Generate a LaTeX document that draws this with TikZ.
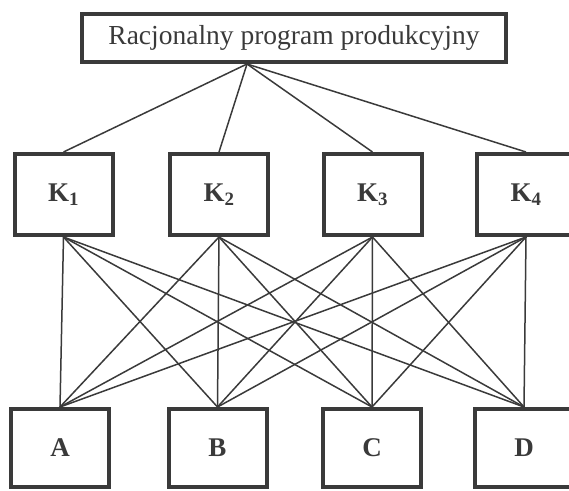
\documentclass[tikz,border=0pt]{standalone}
\usepackage{fontspec}
\setmainfont{Liberation Serif}
\definecolor{ink}{HTML}{3A3A3A}
\begin{document}
\begin{tikzpicture}[x=1pt,y=-1pt,
  box/.style={draw=ink,line width=4pt,fill=white,inner sep=0pt,text=ink,
    font=\fontsize{27}{29}\selectfont\bfseries},
  kbox/.style={box,minimum width=98pt,minimum height=81pt},
  lbox/.style={box,minimum width=98pt,minimum height=78pt},
  link/.style={draw=ink,line width=1.5pt}]
\useasboundingbox (0,0) rectangle (569,490);
\node[box,minimum width=424pt,minimum height=48pt,
  font=\fontsize{27.5}{29}\selectfont] (top) at (294,38) {Racjonalny program produkcyjny};
\node[kbox] (k1) at (63.5,194.5) {K\textsubscript{1}};
\node[kbox] (k2) at (219,194.5) {K\textsubscript{2}};
\node[kbox] (k3) at (372.5,194.5) {K\textsubscript{3}};
\node[kbox] (k4) at (526,194.5) {K\textsubscript{4}};
\node[lbox] (a) at (60,448) {A};
\node[lbox] (b) at (217.5,448) {B};
\node[lbox] (c) at (372,448) {C};
\node[lbox] (d) at (524,448) {D};
\coordinate (hub) at (247,64);
\foreach \k in {k1,k2,k3,k4}{
  \draw[link] (hub) -- (\k.north);
  \foreach \l in {a,b,c,d}{
    \draw[link] (\k.south) -- (\l.north);
  }
}
\end{tikzpicture}
\end{document}
